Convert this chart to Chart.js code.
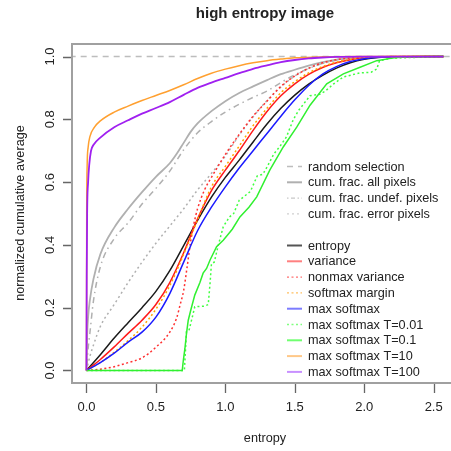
<!DOCTYPE html>
<html>
<head>
<meta charset="utf-8">
<script src="https://cdn.jsdelivr.net/npm/chart.js@4/dist/chart.umd.min.js"></script>
<style>
html, body { margin: 0; padding: 0; background: #fff; overflow: hidden; }
#wrap { width: 451px; height: 451px; overflow: hidden; position: relative; }
</style>
</head>
<body>
<div id="wrap"><canvas id="c" width="470" height="451"></canvas></div>
<script>
// tick labels
const xTicks = [0, 0.5, 1.0, 1.5, 2.0, 2.5];
const yTicks = [0, 0.2, 0.4, 0.6, 0.8, 1.0];

// shared entropy grid for the smooth curves
const gridX = [0, 0.1, 0.2, 0.3, 0.4, 0.5, 0.6, 0.7, 0.8, 0.9, 1.0, 1.1, 1.2, 1.3, 1.4, 1.5, 1.6, 1.7, 1.8, 1.9, 2.0, 2.1, 2.2, 2.57];

// reference lines / pixel fractions
const randomX = [-0.2, 2.8];
const randomY = [1, 1];
const allX = [0, 0.005, 0.012, 0.025, 0.05, 0.1, 0.2, 0.3, 0.4, 0.5, 0.6, 0.65, 0.7, 0.75, 0.8, 0.9, 1.0, 1.1, 1.2, 1.3, 1.4, 1.5, 1.6, 1.7, 1.8, 1.9, 2.0, 2.57];
const allY = [0, 0.11, 0.17, 0.225, 0.29, 0.37, 0.455, 0.515, 0.568, 0.617, 0.66, 0.69, 0.725, 0.76, 0.787, 0.826, 0.858, 0.884, 0.905, 0.925, 0.944, 0.958, 0.971, 0.982, 0.99, 0.995, 0.998, 1.0];
const undefX = [0, 0.01, 0.025, 0.05, 0.1, 0.2, 0.3, 0.4, 0.5, 0.6, 0.7, 0.8, 0.9, 1.0, 1.1, 1.2, 1.3, 1.4, 1.5, 1.6, 1.7, 1.8, 1.9, 2.0, 2.57];
const undefY = [0, 0.06, 0.12, 0.22, 0.33, 0.42, 0.47, 0.53, 0.58, 0.635, 0.703, 0.757, 0.793, 0.823, 0.848, 0.87, 0.89, 0.917, 0.942, 0.962, 0.978, 0.988, 0.995, 0.998, 1.0];
const errorX = [0, 0.025, 0.05, 0.1, 0.2, 0.3, 0.4, 0.5, 0.6, 0.7, 0.8, 0.9, 1.0, 1.1, 1.2, 1.3, 1.4, 1.5, 1.6, 1.7, 1.8, 1.9, 2.0, 2.57];
const errorY = [0, 0.045, 0.08, 0.14, 0.21, 0.28, 0.345, 0.405, 0.46, 0.515, 0.575, 0.628, 0.683, 0.75, 0.808, 0.86, 0.903, 0.938, 0.962, 0.978, 0.99, 0.996, 0.999, 1.0];

// uncertainty measures (on gridX unless given their own x)
const entropyY = [0, 0.05, 0.103, 0.152, 0.2, 0.252, 0.318, 0.398, 0.478, 0.552, 0.615, 0.67, 0.728, 0.785, 0.835, 0.877, 0.912, 0.94, 0.963, 0.98, 0.991, 0.997, 0.999, 1.0];
const varianceY = [0, 0.035, 0.075, 0.118, 0.16, 0.21, 0.28, 0.375, 0.483, 0.573, 0.638, 0.7, 0.765, 0.825, 0.875, 0.913, 0.943, 0.965, 0.98, 0.99, 0.996, 0.999, 1.0, 1.0];
const nonmaxX = [0, 0.1, 0.2, 0.3, 0.4, 0.5, 0.6, 0.65, 0.675, 0.7, 0.725, 0.75, 0.775, 0.8, 0.85, 0.9, 1.0, 1.1, 1.2, 1.3, 1.4, 1.5, 1.6, 1.7, 1.8, 2.0, 2.57];
const nonmaxY = [0, 0.004, 0.012, 0.025, 0.04, 0.074, 0.122, 0.168, 0.21, 0.255, 0.33, 0.41, 0.47, 0.515, 0.575, 0.615, 0.688, 0.752, 0.81, 0.858, 0.905, 0.938, 0.963, 0.98, 0.99, 0.998, 1.0];
const marginY = [0, 0.025, 0.058, 0.095, 0.138, 0.195, 0.27, 0.37, 0.48, 0.585, 0.65, 0.715, 0.78, 0.835, 0.885, 0.92, 0.948, 0.968, 0.982, 0.991, 0.997, 0.999, 1.0, 1.0];
const softmaxY = [0, 0.025, 0.055, 0.09, 0.122, 0.17, 0.245, 0.345, 0.445, 0.52, 0.585, 0.645, 0.7, 0.755, 0.81, 0.862, 0.908, 0.944, 0.968, 0.984, 0.993, 0.998, 0.999, 1.0];
const t001X = [0, 0.705, 0.715, 0.72, 0.74, 0.76, 0.78, 0.85, 0.877, 0.89, 0.90, 0.92, 0.95, 0.985, 1.03, 1.06, 1.1, 1.18, 1.23, 1.27, 1.3, 1.35, 1.39, 1.44, 1.49, 1.53, 1.61, 1.68, 1.72, 1.78, 1.85, 1.97, 2.05, 2.09, 2.11, 2.2, 2.57];
const t001Y = [0, 0, 0.08, 0.124, 0.13, 0.166, 0.203, 0.205, 0.21, 0.278, 0.34, 0.345, 0.40, 0.458, 0.489, 0.50, 0.542, 0.57, 0.62, 0.625, 0.648, 0.69, 0.712, 0.744, 0.80, 0.83, 0.875, 0.88, 0.89, 0.913, 0.935, 0.948, 0.95, 0.96, 0.987, 0.995, 1.0];
const t01X = [0, 0.69, 0.697, 0.709, 0.721, 0.733, 0.75, 0.78, 0.817, 0.84, 0.865, 0.89, 0.937, 0.985, 1.05, 1.105, 1.17, 1.226, 1.32, 1.417, 1.514, 1.61, 1.73, 1.85, 1.97, 2.09, 2.2, 2.3, 2.57];
const t01Y = [0, 0, 0.03, 0.07, 0.12, 0.16, 0.19, 0.24, 0.28, 0.31, 0.325, 0.352, 0.394, 0.415, 0.45, 0.489, 0.52, 0.553, 0.638, 0.712, 0.775, 0.845, 0.913, 0.945, 0.966, 0.987, 0.995, 0.999, 1.0];
const t10X = [0, 0.002, 0.005, 0.012, 0.025, 0.058, 0.1, 0.2, 0.3, 0.4, 0.5, 0.6, 0.7, 0.8, 0.9, 1.0, 1.1, 1.2, 1.3, 1.4, 1.5, 1.7, 2.0, 2.57];
const t10Y = [0, 0.5, 0.65, 0.71, 0.745, 0.775, 0.795, 0.823, 0.842, 0.86, 0.876, 0.892, 0.91, 0.93, 0.947, 0.96, 0.971, 0.98, 0.987, 0.992, 0.996, 0.999, 1.0, 1.0];
const t100X = [0, 0.002, 0.005, 0.012, 0.02, 0.033, 0.05, 0.1, 0.2, 0.3, 0.4, 0.5, 0.6, 0.7, 0.8, 0.9, 1.0, 1.1, 1.2, 1.3, 1.4, 1.5, 1.6, 1.7, 1.8, 2.0, 2.57];
const t100Y = [0, 0.3, 0.5, 0.6, 0.655, 0.70, 0.718, 0.742, 0.775, 0.797, 0.818, 0.836, 0.855, 0.878, 0.90, 0.917, 0.932, 0.947, 0.961, 0.972, 0.982, 0.989, 0.994, 0.997, 0.999, 1.0, 1.0];

const FONT = '"Liberation Sans", Arial, sans-serif';

function pts(xs, ys) {
    return xs.map((x, i) => ({ x: x, y: ys[i] }));
}

// label, x, y, colour, legend colour, dash, width, smooth
const series = [
    ['random selection', randomX, randomY, '#bdbdbd', '#bdbdbd', [6, 5], 1.5, true],
    ['cum. frac. all pixels', allX, allY, '#b0b0b0', '#b0b0b0', [], 1.8, true],
    ['cum. frac. undef. pixels', undefX, undefY, '#b0b0b0', '#c8c8c8', [1.5, 4, 6, 4], 1.5, true],
    ['cum. frac. error pixels', errorX, errorY, '#b0b0b0', '#cfcfcf', [2, 3], 1.5, true],
    ['entropy', gridX, entropyY, '#1a1a1a', '#555555', [], 1.5, true],
    ['variance', gridX, varianceY, '#ff1a1a', '#ff8080', [], 1.5, true],
    ['nonmax variance', nonmaxX, nonmaxY, '#ff3030', '#ff7070', [2, 2.5], 1.5, true],
    ['softmax margin', gridX, marginY, '#ffa500', '#ffc060', [2, 2.5], 1.5, true],
    ['max softmax', gridX, softmaxY, '#1a1aff', '#7c7cff', [], 1.5, true],
    ['max softmax T=0.01', t001X, t001Y, '#40ff40', '#80ff80', [2, 2.5], 1.5, false],
    ['max softmax T=0.1', t01X, t01Y, '#30f030', '#70ff70', [], 1.5, false],
    ['max softmax T=10', t10X, t10Y, '#ffa030', '#ffc888', [], 1.5, true],
    ['max softmax T=100', t100X, t100Y, '#a020f0', '#c890ff', [], 1.8, true]
];

const datasets = series.map((s, i) => ({
    label: s[0],
    data: pts(s[1], s[2]),
    borderColor: s[3],
    legendColor: s[4],
    borderDash: s[5],
    borderWidth: s[6],
    pointRadius: 0,
    fill: false,
    cubicInterpolationMode: s[7] ? 'monotone' : 'default',
    tension: 0,
    order: series.length - i
}));

const decor = {
    id: 'decor',
    afterDatasetsDraw(chart) {
        const ctx = chart.ctx, a = chart.chartArea;
        const xs = chart.scales.x, ys = chart.scales.y;
        ctx.save();

        // box and ticks
        ctx.strokeStyle = '#a0a0a0';
        ctx.lineWidth = 2;
        ctx.strokeRect(a.left, a.top, a.right - a.left, a.bottom - a.top);
        ctx.lineWidth = 1.3;
        ctx.strokeStyle = '#666';
        ctx.beginPath();
        xTicks.forEach(v => {
            const p = Math.round(xs.getPixelForValue(v)) + 0.5;
            ctx.moveTo(p, a.bottom + 1);
            ctx.lineTo(p, a.bottom + 10);
        });
        yTicks.forEach(v => {
            const p = Math.round(ys.getPixelForValue(v)) + 0.5;
            ctx.moveTo(a.left - 1, p);
            ctx.lineTo(a.left - 9, p);
        });
        ctx.stroke();

        // tick labels
        ctx.fillStyle = '#222';
        ctx.font = '13px ' + FONT;
        ctx.textAlign = 'center';
        ctx.textBaseline = 'middle';
        xTicks.forEach(v => ctx.fillText(v.toFixed(1), xs.getPixelForValue(v), 407));
        yTicks.forEach(v => {
            ctx.save();
            ctx.translate(50, ys.getPixelForValue(v));
            ctx.rotate(-Math.PI / 2);
            ctx.fillText(v.toFixed(1), 0, 0);
            ctx.restore();
        });

        // titles
        ctx.font = '12.7px ' + FONT;
        ctx.fillText('entropy', 265, 438);
        ctx.save();
        ctx.translate(20, 213);
        ctx.rotate(-Math.PI / 2);
        ctx.fillText('normalized cumulative average', 0, 0);
        ctx.restore();
        ctx.font = 'bold 15px ' + FONT;
        ctx.fillText('high entropy image', 265, 14);

        // legend
        ctx.font = '12.7px ' + FONT;
        ctx.textAlign = 'left';
        let y = 166.5;
        chart.data.datasets.forEach((ds, i) => {
            if (i === 4) y += 15.8;
            ctx.strokeStyle = ds.legendColor;
            ctx.lineWidth = ds.borderDash.length ? 1.3 : 2;
            ctx.setLineDash(ds.borderDash.length === 4 ? [1.5, 2.5, 4, 2.5] : ds.borderDash);
            ctx.beginPath();
            ctx.moveTo(287, y);
            ctx.lineTo(302, y);
            ctx.stroke();
            ctx.setLineDash([]);
            ctx.fillStyle = '#222';
            ctx.fillText(ds.label, 308, y + 0.5);
            y += 15.8;
        });
        ctx.restore();
    }
};

new Chart(document.getElementById('c'), {
    type: 'line',
    data: { datasets: datasets },
    options: {
        responsive: false,
        animation: false,
        devicePixelRatio: 1,
        layout: { padding: { left: 72, top: 44, right: 8, bottom: 68 } },
        plugins: { legend: { display: false }, tooltip: { enabled: false } },
        scales: {
            x: { type: 'linear', min: -0.104, max: 2.704, display: false },
            y: { type: 'linear', min: -0.04, max: 1.04, display: false }
        }
    },
    plugins: [decor]
});
</script>
</body>
</html>
